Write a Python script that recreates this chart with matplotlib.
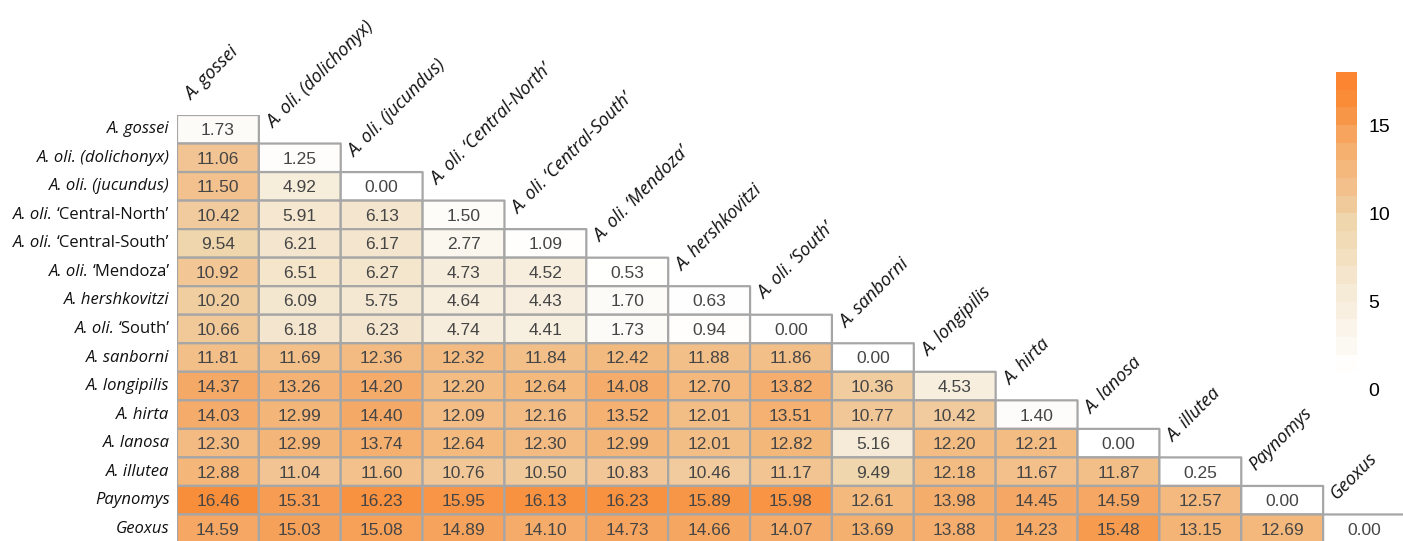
import numpy as np
import matplotlib
matplotlib.use('Agg')
import matplotlib.pyplot as plt
from matplotlib.colors import LinearSegmentedColormap, Normalize
from matplotlib.cm import ScalarMappable

# nombres de las filas (parte en cursiva, parte normal)
row_italic = ['A. gossei', 'A. oli. (dolichonyx)', 'A. oli. (jucundus)', 'A. oli.', 'A. oli.',
              'A. oli.', 'A. hershkovitzi', 'A. oli.', 'A. sanborni', 'A. longipilis',
              'A. hirta', 'A. lanosa', 'A. illutea', 'Paynomys', 'Geoxus']
row_roman = ['', '', '', '\u2018Central-North\u2019', '\u2018Central-South\u2019',
             '\u2018Mendoza\u2019', '', '\u2018South\u2019', '', '', '', '', '', '', '']

col_labels = ['A. gossei', 'A. oli. (dolichonyx)', 'A. oli. (jucundus)',
              'A. oli. \u2018Central-North\u2019', 'A. oli. \u2018Central-South\u2019',
              'A. oli. \u2018Mendoza\u2019', 'A. hershkovitzi', 'A. oli. \u2018South\u2019',
              'A. sanborni', 'A. longipilis', 'A. hirta', 'A. lanosa', 'A. illutea',
              'Paynomys', 'Geoxus']

# distancias (triangulo inferior, fila por fila)
dist = [
    [1.73],
    [11.06, 1.25],
    [11.50, 4.92, 0.00],
    [10.42, 5.91, 6.13, 1.50],
    [9.54, 6.21, 6.17, 2.77, 1.09],
    [10.92, 6.51, 6.27, 4.73, 4.52, 0.53],
    [10.20, 6.09, 5.75, 4.64, 4.43, 1.70, 0.63],
    [10.66, 6.18, 6.23, 4.74, 4.41, 1.73, 0.94, 0.00],
    [11.81, 11.69, 12.36, 12.32, 11.84, 12.42, 11.88, 11.86, 0.00],
    [14.37, 13.26, 14.20, 12.20, 12.64, 14.08, 12.70, 13.82, 10.36, 4.53],
    [14.03, 12.99, 14.40, 12.09, 12.16, 13.52, 12.01, 13.51, 10.77, 10.42, 1.40],
    [12.30, 12.99, 13.74, 12.64, 12.30, 12.99, 12.01, 12.82, 5.16, 12.20, 12.21, 0.00],
    [12.88, 11.04, 11.60, 10.76, 10.50, 10.83, 10.46, 11.17, 9.49, 12.18, 11.67, 11.87, 0.25],
    [16.46, 15.31, 16.23, 15.95, 16.13, 16.23, 15.89, 15.98, 12.61, 13.98, 14.45, 14.59, 12.57, 0.00],
    [14.59, 15.03, 15.08, 14.89, 14.10, 14.73, 14.66, 14.07, 13.69, 13.88, 14.23, 15.48, 13.15, 12.69, 0.00],
]

n = len(dist)
M = np.full((n, n), np.nan)
for i, fila in enumerate(dist):
    M[i, :len(fila)] = fila
Mm = np.ma.masked_invalid(M)

vmax = 18
pts = [(0, '#FFFFFF'), (1, '#FFFEFD'), (5, '#F6ECDA'), (9.5, '#EFD6AC'), (11, '#F2C594'),
       (13, '#F4B678'), (14.5, '#F5A865'), (16.5, '#F98E3A'), (18, '#FB8530')]
cmap = LinearSegmentedColormap.from_list('naranja', [(v / vmax, c) for v, c in pts])
norm = Normalize(0, vmax)

fig = plt.figure(figsize=(14.03, 5.41), dpi=100)
ax = fig.add_axes([177 / 1403, -2 / 541, 1228 / 1403, 428 / 541])
ax.pcolor(np.arange(n + 1), np.arange(n + 1), Mm, cmap=cmap, norm=norm,
          edgecolors='#A6A6A6', linewidth=1.6)
ax.set_xlim(0, n)
ax.set_ylim(n, 0)
ax.axis('off')

for i in range(n):
    for j in range(n):
        if not np.isnan(M[i, j]):
            ax.text(j + 0.5, i + 0.55, f'{M[i, j]:.2f}', ha='center', va='center',
                    fontsize=12.5, family='Liberation Sans', color='#454545')

# etiquetas de filas: parte normal a la derecha, cursiva delante
renderer = fig.canvas.get_renderer()
inv = ax.transData.inverted()
for i in range(n):
    x = -0.09
    if row_roman[i]:
        t = ax.text(x, i + 0.5, row_roman[i], ha='right', va='center', fontsize=12,
                    family='Open Sans', color='#111111', clip_on=False)
        bb = t.get_window_extent(renderer)
        x = inv.transform((bb.x0 - 4, bb.y0))[0]
    ax.text(x, i + 0.5, row_italic[i], ha='right', va='center', fontsize=12,
            family='Open Sans', style='italic', color='#111111', clip_on=False)

for j in range(n):
    ax.text(j + 0.17, j - 0.5, col_labels[j], ha='left', va='baseline', rotation=45,
            rotation_mode='anchor', fontsize=13, family='Open Sans', style='italic',
            color='#111111', clip_on=False)

# barra de color
cax = fig.add_axes([1336 / 1403, 151 / 541, 21 / 1403, 318 / 541])
sm = ScalarMappable(norm=norm, cmap=cmap.resampled(18))
cb = fig.colorbar(sm, cax=cax, ticks=[0, 5, 10, 15])
cb.outline.set_visible(False)
cb.ax.tick_params(length=0, labelsize=14, pad=8)
for t in cb.ax.get_yticklabels():
    t.set_family('Liberation Sans')

fig.savefig('out.png', dpi=100)
